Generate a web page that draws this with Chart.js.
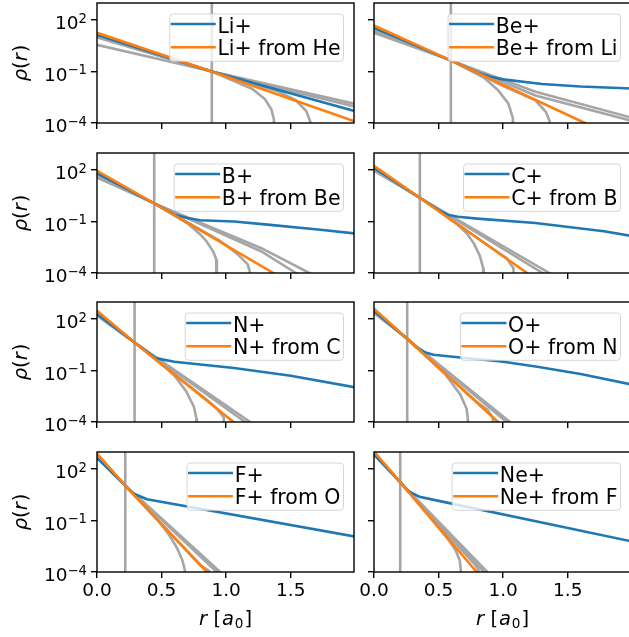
<!DOCTYPE html>
<html>
<head>
<meta charset="utf-8">
<script src="https://cdn.jsdelivr.net/npm/chart.js@4.4.1/dist/chart.umd.min.js"></script>
<style>
  body { margin: 0; background: #fff; overflow: hidden; }
  #fig { position: relative; width: 629px; height: 637px; overflow: hidden; background: #fff; }
  #fig canvas { position: absolute; }
</style>
</head>
<body>
<div id="fig"></div>
<script>
// ions, and the neutral atom each "from" curve was built from
const ions = ['Li+', 'Be+', 'B+', 'C+', 'N+', 'O+', 'F+', 'Ne+'];
const sources = ['He', 'Li', 'Be', 'B', 'C', 'N', 'O', 'F'];
const cutoffs = [0.889, 0.595, 0.443, 0.355, 0.291, 0.257, 0.219, 0.203];

const xTicks = [0, 0.5, 1.0, 1.5];
const xTickLabels = ['0.0', '0.5', '1.0', '1.5'];
const yTicks = [1e-4, 1e-1, 1e2];
const yTickExps = ['\u22124', '\u22121', '2'];

// curves as [r, rho] pairs
const liIon = [[0, 13.8], [0.889, 0.1], [2.0, 4.8e-4]];
const liFrom = [[0, 18.2], [0.889, 0.1], [2.0, 1.2e-4]];
const liGray = [
  [[0, 3.6], [0.56, 0.39], [0.889, 0.1], [2.0, 1.3e-3]],
  [[0, 9.8], [0.889, 0.1], [2.0, 9e-4]],
  [[0, 11], [0.889, 0.1], [1.2, 0.01], [1.3, 2.5e-3], [1.35, 6.3e-4], [1.37, 1.6e-4], [1.372, 1e-8]],
  [[0, 10.5], [0.889, 0.1], [1.4, 7.1e-3], [1.54, 2.1e-3], [1.62, 5e-4], [1.65, 1.3e-4], [1.652, 1e-8]]
];

const beIon = [[0, 35.5], [0.595, 0.45], [0.8, 0.089], [0.9, 0.05], [1.0, 0.035], [1.3, 0.019], [1.6, 0.0135], [2.0, 0.0102]];
const beFrom = [[0, 49], [0.595, 0.45], [1.633, 1e-4], [2.0, 5e-6]];
const beGray = [
  [[0, 18.2], [0.595, 0.45], [1.25, 6.6e-3], [2.0, 2e-4]],
  [[0, 28], [0.595, 0.45], [1.25, 4e-3], [2.0, 1.3e-4]],
  [[0, 25.7], [0.595, 0.45], [0.85, 0.045], [0.96, 8.3e-3], [1.04, 1.4e-3], [1.075, 2e-4], [1.082, 1e-8]],
  [[0, 22], [0.595, 0.45], [1.0, 0.0141], [1.25, 2.1e-3], [1.33, 4.5e-4], [1.36, 1.3e-4], [1.364, 1e-8]]
];

const bIon = [[0, 65], [0.443, 1.15], [0.6, 0.25], [0.7, 0.16], [0.8, 0.12], [1.06, 0.1], [1.3, 0.069], [1.73, 0.033], [2.0, 0.02]];
const bFrom = [[0, 91], [0.443, 1.15], [1.366, 1e-4], [2.0, 1.6e-7]];
const bGray = [
  [[0, 37], [0.443, 1.15], [1.273, 2.8e-3], [1.644, 1e-4], [2.0, 4e-6]],
  [[0, 57.5], [0.443, 1.15], [1.273, 1.8e-3], [1.54, 1e-4], [2.0, 1e-6]],
  [[0, 50], [0.443, 1.15], [0.7, 0.079], [0.8, 0.0178], [0.849, 6.9e-3], [0.9, 1.8e-3], [0.923, 6.3e-4], [0.928, 1e-8]],
  [[0, 45], [0.443, 1.15], [0.95, 7.9e-3], [1.088, 1.26e-3], [1.167, 3.2e-4], [1.19, 8e-5], [1.211, 1e-8]]
];

const cIon = [[0, 132], [0.355, 2.45], [0.5, 0.47], [0.57, 0.25], [0.65, 0.19], [0.8, 0.148], [1.25, 0.083], [1.78, 0.027], [2.0, 0.0141]];
const cFrom = [[0, 178], [0.355, 2.45], [1.186, 1e-4], [2.0, 5e-9]];
const cGray = [
  [[0, 91], [0.355, 2.45], [1.358, 1e-4], [2.0, 1.6e-7]],
  [[0, 126], [0.355, 2.45], [1.305, 1e-4], [2.0, 1e-7]],
  [[0, 112], [0.355, 2.45], [0.65, 0.063], [0.72, 0.02], [0.775, 5e-3], [0.82, 1e-3], [0.845, 2e-4], [0.849, 1e-8]],
  [[0, 141], [0.355, 2.45], [0.95, 1.8e-3], [1.027, 7.2e-4], [1.08, 1.9e-4], [1.093, 1e-8]]
];

const nIon = [[0, 195], [0.291, 4.3], [0.45, 0.56], [0.503, 0.45], [0.6, 0.33], [0.8, 0.224], [1.061, 0.14], [1.5, 0.05], [2.0, 0.0105]];
const nFrom = [[0, 309], [0.291, 4.3], [1.057, 1e-4], [2.0, 1e-10]];
const nGray = [
  [[0, 158], [0.291, 4.3], [1.186, 1e-4], [2.0, 5e-9]],
  [[0, 200], [0.291, 4.3], [1.147, 1e-4], [2.0, 5e-9]],
  [[0, 224], [0.291, 4.3], [0.55, 0.112], [0.6, 0.05], [0.69, 6.3e-3], [0.75, 7.9e-4], [0.77, 1.6e-4], [0.773, 1e-8]],
  [[0, 251], [0.291, 4.3], [0.85, 2e-3], [0.928, 6e-4], [0.981, 1.9e-4], [0.995, 1e-8]]
];

const oIon = [[0, 295], [0.257, 7.2], [0.33, 2.24], [0.4, 1.12], [0.46, 0.83], [0.668, 0.575], [0.987, 0.34], [1.252, 0.174], [1.6, 0.063], [2.0, 0.015]];
const oFrom = [[0, 407], [0.257, 7.2], [0.96, 1e-4], [2.0, 1e-11]];
const oGray = [
  [[0, 224], [0.257, 7.2], [1.053, 1e-4], [2.0, 1e-10]],
  [[0, 282], [0.257, 7.2], [1.027, 1e-4], [2.0, 1e-10]],
  [[0, 316], [0.257, 7.2], [0.55, 0.063], [0.668, 4e-3], [0.716, 6.3e-4], [0.727, 1.6e-4], [0.729, 1e-8]],
  [[0, 355], [0.257, 7.2], [0.8, 1.4e-3], [0.88, 5e-4], [0.92, 1.8e-4], [0.934, 1e-8]]
];

const fIon = [[0, 447], [0.219, 11], [0.27, 4.3], [0.309, 3.1], [0.35, 2.3], [0.387, 1.74], [2.0, 0.0115]];
const fFrom = [[0, 794], [0.219, 11], [0.851, 1e-4], [2.0, 1e-13]];
const fGray = [
  [[0, 500], [0.219, 11], [0.954, 1e-4], [2.0, 1e-11]],
  [[0, 631], [0.219, 11], [0.928, 1e-4], [2.0, 1e-11]],
  [[0, 562], [0.219, 11], [0.49, 0.071], [0.56, 0.014], [0.62, 2.5e-3], [0.66, 5e-4], [0.68, 1.3e-4], [0.683, 1e-8]],
  [[0, 708], [0.219, 11], [0.8, 2.5e-4], [0.87, 1.1e-4], [0.889, 1e-8]]
];

const neIon = [[0, 692], [0.203, 17.4], [0.26, 5.6], [0.3, 3.9], [0.351, 2.45], [0.4, 2.04], [2.0, 6e-3]];
const neFrom = [[0, 1070], [0.203, 17.4], [0.795, 1e-4], [2.0, 1e-14]];
const neGray = [
  [[0, 760], [0.203, 17.4], [0.877, 1e-4], [2.0, 1e-12]],
  [[0, 850], [0.203, 17.4], [0.851, 1e-4], [2.0, 1e-12]],
  [[0, 800], [0.203, 17.4], [0.5, 0.038], [0.58, 7e-3], [0.633, 1.8e-3], [0.664, 4.7e-4], [0.671, 1.6e-4], [0.672, 1e-8]],
  [[0, 900], [0.203, 17.4], [0.78, 2.8e-4], [0.815, 1.1e-4], [0.826, 1e-8]]
];

const ionCurves = [liIon, beIon, bIon, cIon, nIon, oIon, fIon, neIon];
const fromCurves = [liFrom, beFrom, bFrom, cFrom, nFrom, oFrom, fFrom, neFrom];
const grayCurves = [liGray, beGray, bGray, cGray, nGray, oGray, fGray, neGray];

const BLUE = '#1f77b4', ORANGE = '#ff7f0e', GRAY = '#a6a6a6';
const FONT = "'DejaVu Sans'";
Chart.defaults.font.family = FONT;

const plotW = 257, plotH = 120, xMax = 1.99;
const rowTops = [3, 153, 302, 452];
const colLefts = [97, 374];

// widths of a row of text pieces with mixed styles
function pieceWidth(ctx, pieces) {
  let w = 0;
  pieces.forEach(p => { ctx.font = p[1]; w += ctx.measureText(p[0]).width + (p[3] || 0); });
  return w;
}
function drawPieces(ctx, pieces, x, y) {
  pieces.forEach(p => {
    ctx.font = p[1];
    ctx.fillText(p[0], x, y + (p[2] || 0));
    x += ctx.measureText(p[0]).width + (p[3] || 0);
  });
}

const panelPlugin = {
  id: 'panel',
  afterDraw(chart) {
    const ctx = chart.ctx, a = chart.chartArea, o = chart.options.panel;
    ctx.save();
    // frame
    ctx.strokeStyle = '#000';
    ctx.lineWidth = 1.4;
    ctx.strokeRect(a.left, a.top, a.right - a.left, a.bottom - a.top);

    ctx.fillStyle = '#000';
    ctx.textBaseline = 'alphabetic';
    ctx.textAlign = 'left';

    // y tick labels 10^n
    if (o.col === 0) {
      const s = chart.scales.y;
      yTicks.forEach((v, k) => {
        const py = s.getPixelForValue(v);
        const big = '18.5px ' + FONT, small = '13.2px ' + FONT;
        ctx.font = big; const wb = ctx.measureText('10').width;
        ctx.font = small; const we = ctx.measureText(yTickExps[k]).width;
        const x0 = a.left - 6 - 4 - wb - we;
        ctx.font = big; ctx.fillText('10', x0, py + 9);
        ctx.font = small; ctx.fillText(yTickExps[k], x0 + wb, py + 2.5);
      });
      // y title rho(r)
      const it = 'italic 19.5px ' + FONT, up = '19.5px ' + FONT;
      const pcs = [['\u03c1', it], ['(', up], ['r', it, 0, 1], [')', up]];
      const w = pieceWidth(ctx, pcs);
      ctx.save();
      ctx.translate(27, (a.top + a.bottom) / 2);
      ctx.rotate(-Math.PI / 2);
      drawPieces(ctx, pcs, -w / 2, 0);
      ctx.restore();
    }

    // x title r [a0]
    if (o.row === 3) {
      const it = 'italic 19.5px ' + FONT, up = '19.5px ' + FONT, sub = '13.6px ' + FONT;
      const pcs = [['r', it, 0, 6.5], ['[', up, 0, 1], ['a', it, 0, 0.8], ['0', sub, 3.5, 1], [']', up]];
      const w = pieceWidth(ctx, pcs);
      drawPieces(ctx, pcs, (a.left + a.right) / 2 - w / 2, a.bottom + 52.5);
    }

    // legend, upper right inside the axes
    const labels = [ions[o.idx], ions[o.idx] + ' from ' + sources[o.idx]];
    ctx.font = '20.5px ' + FONT;
    const tw = Math.max(...labels.map(l => ctx.measureText(l).width));
    const bw = 47.7 + tw + 3, bh = 47.3;
    const bx = a.right - 10.5 - bw, by = a.top + 11;
    ctx.beginPath();
    ctx.roundRect(bx, by, bw, bh, 3.5);
    ctx.fillStyle = 'rgba(255,255,255,0.8)';
    ctx.fill();
    ctx.strokeStyle = 'rgba(204,204,204,0.8)';
    ctx.lineWidth = 1;
    ctx.stroke();
    [BLUE, ORANGE].forEach((c, k) => {
      const ly = by + 10 + k * 23.3;
      ctx.strokeStyle = c;
      ctx.lineWidth = 2.6;
      ctx.beginPath();
      ctx.moveTo(bx + 1, ly);
      ctx.lineTo(bx + 46, ly);
      ctx.stroke();
      ctx.fillStyle = '#000';
      ctx.fillText(labels[k], bx + 47.7, by + 19 + k * 21.7);
    });
    ctx.restore();
  }
};

const fig = document.getElementById('fig');
const toXY = pts => pts.map(p => ({ x: p[0], y: p[1] }));

for (let i = 0; i < ions.length; i++) {
  const row = Math.floor(i / 2), col = i % 2;
  const yw = col === 0 ? 97 : 30;
  const xh = row === 3 ? 65 : 16;
  const padTop = 3, padRight = 4;

  const canvas = document.createElement('canvas');
  canvas.width = yw + plotW + padRight;
  canvas.height = padTop + plotH + xh;
  canvas.style.left = (colLefts[col] - yw) + 'px';
  canvas.style.top = (rowTops[row] - padTop) + 'px';
  fig.appendChild(canvas);

  const line = (pts, color, order) => ({
    data: toXY(pts), borderColor: color, borderWidth: 2.6, pointRadius: 0,
    fill: false, tension: 0, clip: 0, order: order
  });
  const datasets = [
    line(fromCurves[i], ORANGE, 0),
    line(ionCurves[i], BLUE, 1),
    line([[cutoffs[i], 1e-6], [cutoffs[i], 1e4]], GRAY, 2)
  ];
  grayCurves[i].forEach(g => datasets.push(line(g, GRAY, 2)));

  new Chart(canvas, {
    type: 'line',
    data: { datasets: datasets },
    options: {
      responsive: false,
      animation: false,
      events: [],
      panel: { idx: i, row: row, col: col },
      layout: { padding: { top: padTop, right: padRight, left: 0, bottom: 0 } },
      plugins: { legend: { display: false }, tooltip: { enabled: false } },
      scales: {
        x: {
          type: 'linear', min: 0, max: xMax,
          afterBuildTicks: s => { s.ticks = xTicks.map(v => ({ value: v })); },
          afterFit: s => { s.height = xh; s.paddingLeft = 0; s.paddingRight = 0; },
          ticks: {
            callback: (v, k) => row === 3 ? xTickLabels[k] : '',
            color: '#000', font: { size: 18.5 }, padding: 2,
            maxRotation: 0, autoSkip: false
          },
          grid: { drawOnChartArea: false, drawTicks: true, tickLength: 6, color: '#000', lineWidth: 1.4 },
          border: { display: false }
        },
        y: {
          type: 'logarithmic', min: 1e-4, max: 1e3,
          afterBuildTicks: s => { s.ticks = yTicks.map(v => ({ value: v })); },
          afterFit: s => { s.width = yw; s.paddingTop = 0; s.paddingBottom = 0; },
          ticks: { callback: () => '', autoSkip: false },
          grid: { drawOnChartArea: false, drawTicks: true, tickLength: 6, color: '#000', lineWidth: 1.4 },
          border: { display: false }
        }
      }
    },
    plugins: [panelPlugin]
  });
}
</script>
</body>
</html>
